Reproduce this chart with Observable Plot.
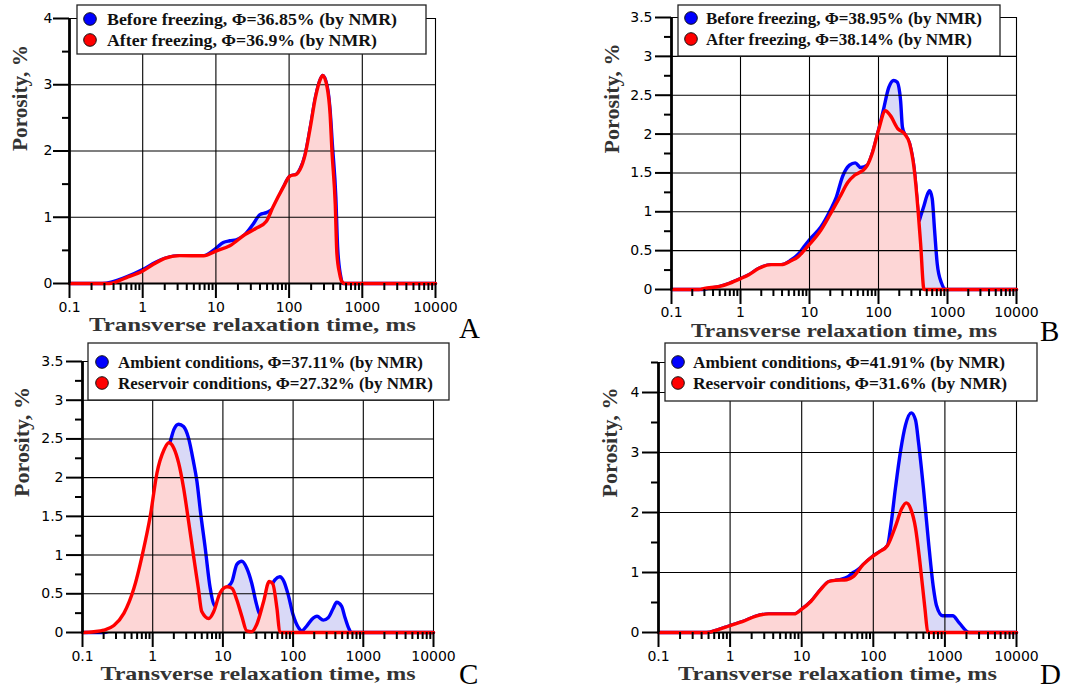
<!DOCTYPE html>
<html><head><meta charset="utf-8">
<script src="https://cdn.jsdelivr.net/npm/d3@7"></script>
<script src="https://cdn.jsdelivr.net/npm/@observablehq/plot@0.6"></script>
<style>
body{margin:0;background:#fff}
#wrap{position:relative;width:1073px;height:691px;overflow:hidden;background:#fff}
.panel{position:absolute}
.panel svg{overflow:visible}
#overlay{position:absolute;left:0;top:0;pointer-events:none}
</style>
</head><body><div id="wrap"></div>
<script>
// ---------- shared axis data ----------
const xMajor = [0.1, 1, 10, 100, 1000, 10000];
const xMajorLabels = ["0.1", "1", "10", "100", "1000", "10000"];
const xGrid = [1, 10, 100, 1000, 10000];
const xMinor = [];
for (const d of [0.1, 1, 10, 100, 1000]) for (let k = 2; k <= 9; k++) xMinor.push(+(k * d).toPrecision(3));
const xTitle = "Transverse relaxation time, ms";
const yTitle = "Porosity, %";
const panelLetters = ["A", "B", "C", "D"];

// ---------- Panel A ----------
const aLegend = ["Before freezing, \u03A6=36.85%  (by NMR)", "After freezing, \u03A6=36.9%  (by NMR)"];
const aBeforeT = [0.1, 0.28, 0.6, 1.0, 1.5, 2.0, 3.2, 6.8, 10, 12.6, 15.5, 19, 25, 32, 40, 49, 60, 83, 102, 126, 141, 166, 195, 229, 269, 288, 331, 363, 390, 435, 460, 505, 540, 10000];
const aBeforeP = [0, 0, 0.10, 0.21, 0.32, 0.38, 0.42, 0.42, 0.53, 0.62, 0.645, 0.66, 0.74, 0.89, 1.04, 1.07, 1.13, 1.45, 1.62, 1.65, 1.73, 1.95, 2.36, 2.81, 3.09, 3.14, 2.98, 2.62, 2.1, 1.3, 0.55, 0.12, 0, 0];
const aAfterT = [0.1, 0.35, 0.6, 1.0, 1.4, 2.0, 3.2, 6.8, 10, 15.5, 25, 35, 49, 60, 83, 102, 126, 141, 166, 195, 229, 269, 288, 331, 363, 385, 427, 450, 490, 525, 575, 10000];
const aAfterP = [0, 0, 0.09, 0.19, 0.29, 0.38, 0.42, 0.42, 0.49, 0.57, 0.74, 0.83, 0.94, 1.15, 1.45, 1.62, 1.65, 1.72, 1.95, 2.36, 2.81, 3.09, 3.14, 2.96, 2.56, 2.0, 1.2, 0.45, 0.15, 0.03, 0, 0];
const aYMajor = [0, 1, 2, 3, 4];
const aYLabels = ["0", "1", "2", "3", "4"];
const aYMinor = [0.5, 1.5, 2.5, 3.5];

// ---------- Panel B ----------
const bLegend = ["Before freezing, \u03A6=38.95%  (by NMR)", "After freezing, \u03A6=38.14%  (by NMR)"];
const bBeforeT = [0.1, 0.28, 0.32, 0.5, 0.69, 1.0, 1.32, 1.82, 2.8, 3.9, 5.4, 6.8, 8.3, 10.2, 14.5, 20, 24.5, 30, 38, 46, 55, 69, 81, 100, 117, 141, 166, 186, 209, 222, 240, 282, 331, 370, 385, 410, 457, 500, 550, 600, 650, 710, 813, 955, 10000];
const bBeforeP = [0, 0, 0.01, 0.04, 0.08, 0.14, 0.19, 0.27, 0.32, 0.32, 0.38, 0.45, 0.55, 0.65, 0.8, 1.02, 1.19, 1.45, 1.6, 1.63, 1.57, 1.6, 1.75, 2.05, 2.3, 2.6, 2.69, 2.67, 2.43, 2.09, 2.0, 1.88, 1.53, 1.05, 0.88, 0.95, 1.08, 1.2, 1.27, 1.17, 0.76, 0.33, 0.09, 0, 0];
const bAfterT = [0.1, 0.25, 0.3, 0.5, 0.69, 1.0, 1.32, 1.82, 2.8, 3.9, 5.4, 6.8, 8.3, 10.2, 14.5, 20, 27.5, 36, 45, 59, 69, 81, 100, 126, 148, 190, 240, 282, 331, 372, 407, 457, 10000];
const bAfterP = [0, 0, 0.015, 0.04, 0.08, 0.14, 0.19, 0.27, 0.32, 0.32, 0.37, 0.42, 0.5, 0.59, 0.76, 0.97, 1.19, 1.38, 1.47, 1.53, 1.6, 1.75, 2.05, 2.3, 2.24, 2.07, 2.0, 1.88, 1.53, 1.05, 0.6, 0, 0];
const halfYMajor = [0, 0.5, 1, 1.5, 2, 2.5, 3, 3.5];
const halfYLabels = ["0", "0.5", "1", "1.5", "2", "2.5", "3", "3.5"];
const halfYMinor = [0.25, 0.75, 1.25, 1.75, 2.25, 2.75, 3.25];

// ---------- Panel C ----------
const cLegend = ["Ambient conditions, \u03A6=37.11%  (by NMR)", "Reservoir conditions, \u03A6=27.32%  (by NMR)"];
const cAmbientT = [0.1, 0.2, 0.28, 0.39, 0.54, 0.71, 0.93, 1.15, 1.45, 1.78, 2.0, 2.34, 2.75, 3.24, 3.8, 4.27, 4.79, 5.6, 6.6, 7.8, 9.1, 11.5, 13.5, 15.8, 18.6, 21.9, 25.7, 30.2, 33.9, 38, 46.8, 55, 64.6, 74, 85, 100, 120, 132, 155, 195, 219, 269, 316, 372, 417, 490, 550, 617, 676, 10000];
const cAmbientP = [0, 0, 0.06, 0.2, 0.5, 0.95, 1.45, 1.95, 2.3, 2.47, 2.62, 2.69, 2.66, 2.51, 2.21, 1.95, 1.56, 1.09, 0.57, 0.34, 0.42, 0.58, 0.66, 0.88, 0.92, 0.83, 0.64, 0.36, 0.23, 0.3, 0.57, 0.68, 0.72, 0.66, 0.49, 0.23, 0.06, 0.02, 0.08, 0.19, 0.21, 0.16, 0.19, 0.31, 0.39, 0.34, 0.19, 0.06, 0, 0];
const cReservoirT = [0.1, 0.145, 0.2, 0.28, 0.39, 0.54, 0.71, 0.93, 1.15, 1.45, 1.7, 2.0, 2.34, 2.75, 3.24, 3.8, 4.47, 5.0, 6.3, 7.4, 9.1, 11.5, 13.5, 15.8, 18.6, 21.9, 25.7, 30.2, 38, 45.7, 51.3, 58.9, 64.6, 69, 10000];
const cReservoirP = [0, 0.01, 0.03, 0.09, 0.25, 0.57, 1.0, 1.52, 2.06, 2.36, 2.45, 2.38, 2.19, 1.87, 1.44, 1.0, 0.57, 0.27, 0.18, 0.27, 0.51, 0.59, 0.57, 0.42, 0.21, 0.02, 0.01, 0.1, 0.4, 0.66, 0.63, 0.31, 0.01, 0, 0];

// ---------- Panel D ----------
const dLegend = ["Ambient conditions, \u03A6=41.91%  (by NMR)", "Reservoir conditions, \u03A6=31.6%  (by NMR)"];
const dAmbientT = [0.1, 0.47, 0.65, 0.87, 1.02, 1.48, 2.24, 3.47, 7.9, 9.8, 13.5, 18.2, 24, 29.5, 36, 42.7, 52.5, 63, 72, 98, 120, 158, 174, 204, 240, 282, 339, 389, 427, 501, 589, 692, 759, 933, 1288, 1585, 2188, 10000];
const dAmbientP = [0, 0, 0.04, 0.09, 0.12, 0.18, 0.27, 0.31, 0.31, 0.38, 0.52, 0.71, 0.85, 0.87, 0.89, 0.92, 1.0, 1.06, 1.13, 1.27, 1.34, 1.45, 1.74, 2.41, 3.02, 3.46, 3.66, 3.54, 3.18, 2.41, 1.52, 0.74, 0.46, 0.28, 0.28, 0.16, 0, 0];
const dReservoirT = [0.1, 0.47, 0.65, 0.87, 1.02, 1.48, 2.24, 3.47, 7.9, 9.8, 13.5, 18.2, 24, 29.5, 42.7, 52.5, 72, 98, 120, 158, 204, 251, 288, 331, 389, 447, 525, 575, 617, 10000];
const dReservoirP = [0, 0, 0.04, 0.09, 0.12, 0.18, 0.27, 0.31, 0.31, 0.38, 0.52, 0.71, 0.85, 0.87, 0.88, 0.93, 1.13, 1.27, 1.34, 1.45, 1.77, 2.07, 2.16, 2.07, 1.74, 1.18, 0.41, 0.02, 0, 0];
const dYMajor = [0, 1, 2, 3, 4];
const dYLabels = ["0", "1", "2", "3", "4"];
const dYMinor = [0.5, 1.5, 2.5, 3.5, 4.5];

// ---------- styles ----------
const BLUE = "#0000ff", RED = "#ff0000";
const BLUE_FILL = "#d9d9f7", RED_FILL = "#fdd6d6";
const SERIF = "'Liberation Serif', 'Times New Roman', serif";
const INK = "#000";

const wrap = document.getElementById("wrap");

function makePanel(cfg) {
  const blue = cfg.blueT.map((t, i) => ({t, p: cfg.blueP[i]}));
  const red = cfg.redT.map((t, i) => ({t, p: cfg.redP[i]}));
  const curve = "monotone-x";
  const svg = Plot.plot({
    width: cfg.width, height: cfg.height,
    marginLeft: cfg.ml, marginRight: cfg.mr, marginTop: cfg.mt, marginBottom: cfg.mb,
    style: {background: "transparent", overflow: "visible", maxWidth: "none",
            fontFamily: "'DejaVu Sans', sans-serif", fontSize: "14px", color: "black"},
    x: {type: "log", domain: [0.1, 10000], label: null},
    y: {domain: cfg.yDomain, label: null},
    marks: [
      Plot.areaY(blue, {x: "t", y: "p", fill: BLUE_FILL, curve}),
      Plot.lineY(blue, {x: "t", y: "p", stroke: BLUE, strokeWidth: 3.4, curve}),
      Plot.areaY(red, {x: "t", y: "p", fill: RED_FILL, curve}),
      Plot.ruleX(xGrid, {stroke: INK, strokeWidth: 1.1}),
      Plot.ruleY(cfg.yGrid, {stroke: INK, strokeWidth: 1.1}),
      Plot.ruleY([0], {stroke: INK, strokeWidth: 2}),
      Plot.lineY(red, {x: "t", y: "p", stroke: RED, strokeWidth: 3.4, curve}),
      Plot.ruleX([0.1], {stroke: INK, strokeWidth: 2.8}),
      Plot.axisX(xMajor, {tickSize: 15, tickPadding: cfg.xPad, tickFormat: d => xMajorLabels[xMajor.indexOf(d)],
                          strokeWidth: 2, stroke: INK, fill: "black", label: null}),
      Plot.axisX(xMinor, {tickSize: 7, tickFormat: () => "", strokeWidth: 2, stroke: INK, label: null}),
      Plot.axisY(cfg.yMajor, {tickSize: 16, tickPadding: cfg.yPad, tickFormat: d => cfg.yLabels[cfg.yMajor.indexOf(d)],
                              strokeWidth: 2, stroke: INK, fill: "black", label: null}),
      Plot.axisY(cfg.yMinor, {tickSize: 7, tickFormat: () => "", strokeWidth: 2, stroke: INK, label: null}),
      Plot.text([xTitle], {text: d => d, frameAnchor: "bottom", dy: cfg.xTitleDy,
                           fontFamily: SERIF, fontWeight: "bold", fontSize: 19, fill: "#333"}),
      Plot.text([yTitle], {text: d => d, frameAnchor: "left", rotate: -90, dx: cfg.yTitleDx,
                           fontFamily: SERIF, fontWeight: "bold", fontSize: 20, fill: "#333"})
    ]
  });
  d3.select(svg).selectAll("text").each(function() {
    const s = this.textContent;
    if (s === xTitle) { this.setAttribute("textLength", cfg.xTitleLen); this.setAttribute("lengthAdjust", "spacingAndGlyphs"); }
    if (s === yTitle) { this.setAttribute("textLength", cfg.yTitleLen); this.setAttribute("lengthAdjust", "spacingAndGlyphs"); }
  });
  const div = document.createElement("div");
  div.className = "panel";
  div.style.left = cfg.left + "px";
  div.style.top = cfg.top + "px";
  div.style.width = cfg.width + "px";
  div.style.height = cfg.height + "px";
  div.appendChild(svg);
  wrap.appendChild(div);
}

makePanel({left: 0, top: 0, width: 480, height: 345, ml: 69, mr: 45, mt: 18, mb: 62,
  yDomain: [0, 4], yMajor: aYMajor, yLabels: aYLabels, yMinor: aYMinor, yGrid: [1, 2, 3, 4],
  blueT: aBeforeT, blueP: aBeforeP, redT: aAfterT, redP: aAfterP,
  xPad: 4, yPad: 1, xTitleDy: 47, yTitleDx: -49, xTitleLen: 327, yTitleLen: 106});
makePanel({left: 540, top: 0, width: 533, height: 350, ml: 131, mr: 57, mt: 17, mb: 61,
  yDomain: [0, 3.5], yMajor: halfYMajor, yLabels: halfYLabels, yMinor: halfYMinor, yGrid: [0.5, 1, 1.5, 2, 2.5, 3, 3.5],
  blueT: bBeforeT, blueP: bBeforeP, redT: bAfterT, redP: bAfterP,
  xPad: 3, yPad: 3, xTitleDy: 47, yTitleDx: -59, xTitleLen: 306, yTitleLen: 110});
makePanel({left: 0, top: 340, width: 480, height: 351, ml: 82, mr: 47, mt: 21, mb: 59,
  yDomain: [0, 3.5], yMajor: halfYMajor, yLabels: halfYLabels, yMinor: halfYMinor, yGrid: [0.5, 1, 1.5, 2, 2.5, 3, 3.5],
  blueT: cAmbientT, blueP: cAmbientP, redT: cReservoirT, redP: cReservoirP,
  xPad: 4, yPad: 3, xTitleDy: 47, yTitleDx: -60, xTitleLen: 315, yTitleLen: 110});
makePanel({left: 540, top: 340, width: 533, height: 351, ml: 118, mr: 57, mt: 22, mb: 59,
  yDomain: [0, 4.5], yMajor: dYMajor, yLabels: dYLabels, yMinor: dYMinor, yGrid: [1, 2, 3, 4, 4.5],
  blueT: dAmbientT, blueP: dAmbientP, redT: dReservoirT, redP: dReservoirP,
  xPad: 4, yPad: 3, xTitleDy: 47, yTitleDx: -48, xTitleLen: 319, yTitleLen: 110});

// ---------- overlay: legends and panel letters ----------
const ov = d3.select(wrap).append("svg").attr("id", "overlay").attr("width", 1073).attr("height", 691);
const legendBoxes = [
  {x: 77, y: 5, w: 349, h: 49, cx: 90, tx: 107, cy: [19, 40], len: [290, 270], labels: aLegend},
  {x: 678, y: 5, w: 322, h: 51, cx: 691, tx: 706, cy: [18, 39], len: [276, 266], labels: bLegend},
  {x: 88, y: 343, w: 361, h: 57, cx: 102, tx: 118, cy: [362, 383], len: [305, 315], labels: cLegend},
  {x: 665, y: 343, w: 372, h: 58, cx: 678, tx: 693, cy: [362, 383], len: [312, 314], labels: dLegend}
];
const legendColors = [BLUE, RED];
for (const L of legendBoxes) {
  ov.append("rect").attr("x", L.x).attr("y", L.y).attr("width", L.w).attr("height", L.h)
    .attr("fill", "white").attr("stroke", "#222").attr("stroke-width", 1.3);
  L.labels.forEach((lab, i) => {
    ov.append("circle").attr("cx", L.cx).attr("cy", L.cy[i]).attr("r", 6.3)
      .attr("fill", legendColors[i]).attr("stroke", "#111").attr("stroke-width", 1);
    ov.append("text").attr("x", L.tx).attr("y", L.cy[i] + 6)
      .attr("font-family", SERIF).attr("font-weight", "bold").attr("font-size", 16.5)
      .attr("fill", "#111").attr("textLength", L.len[i]).attr("lengthAdjust", "spacingAndGlyphs")
      .text(lab);
  });
}
const letterPos = [[459, 338], [1040, 341], [459, 684], [1040, 684]];
panelLetters.forEach((s, i) => {
  ov.append("text").attr("x", letterPos[i][0]).attr("y", letterPos[i][1])
    .attr("font-family", SERIF).attr("font-size", 29).attr("fill", "#000").text(s);
});
</script>
</body></html>
